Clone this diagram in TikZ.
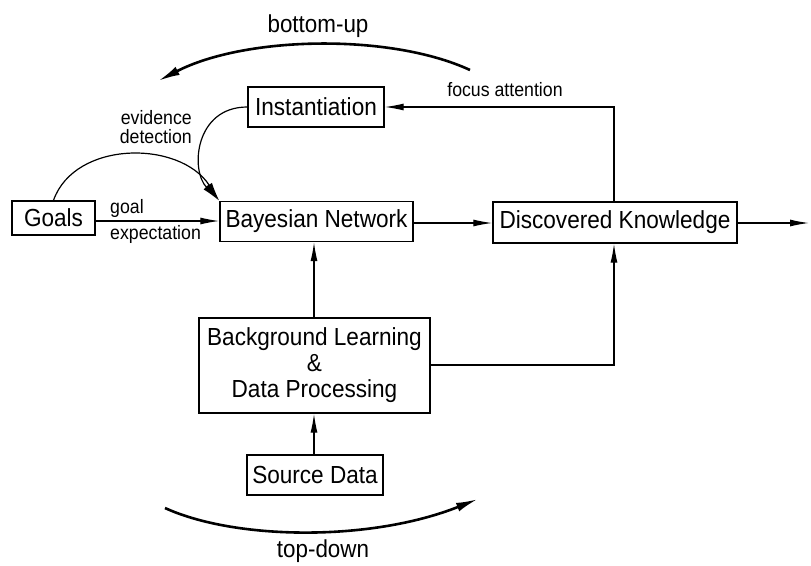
\documentclass[tikz,border=0pt]{standalone}
\usepackage{fontspec}
\setmainfont{Liberation Sans}[FakeStretch=0.914]
\usetikzlibrary{arrows.meta,calc}
\tikzset{
  box/.style={draw, line width=1.4pt, inner sep=0pt, align=center, font=\fontsize{24.7}{26}\selectfont},
  conn/.style={line width=1.2pt, -{Latex[length=19pt,width=7pt]}},
  bigarc/.style={line width=2.6pt, -{Latex[length=22pt,width=9pt]}},
  small/.style={font=\fontsize{19.4}{19.5}\selectfont, inner sep=0pt},
  big/.style={font=\fontsize{24.5}{26}\selectfont, inner sep=0pt}
}
\begin{document}
\begin{tikzpicture}[x=1pt,y=-1pt]
\useasboundingbox (0,0) rectangle (811,565);
% boxes
\node[box, minimum width=83pt, minimum height=34pt] (goals) at (53.5,218) {Goals};
\node[box, minimum width=193pt, minimum height=40pt] (bn) at (316.5,221.5) {Bayesian Network};
\node[box, minimum width=136pt, minimum height=40pt] (inst) at (316,107) {Instantiation};
\node[box, minimum width=244pt, minimum height=41pt] (dk) at (615,222.5) {Discovered Knowledge};
\node[box, minimum width=231pt, minimum height=95pt] (bg) at (314.5,365.5) {Background Learning\\\&\\Data Processing};
\node[box, minimum width=136pt, minimum height=40pt] (src) at (315,475) {Source Data};
\coordinate (out) at (809,223);
\coordinate (fx) at (614,107);
\coordinate (bx) at (614,365);
% connectors
\draw[conn] (goals.east |- 0,221) -- (bn.west |- 0,221);
\draw[conn] (bn.east |- 0,223) -- (dk.west |- 0,223);
\draw[conn] (dk.east |- out) -- (out);
\draw[conn] (dk.north -| fx) -- (fx) -- (inst.east);
\draw[conn] (bg.north -| 314,0) -- (bn.south -| 314,0);
\draw[conn] (src.north -| 314,0) -- (bg.south -| 314,0);
\draw[conn] (bg.east |- bx) -- (bx) -- (dk.south -| bx);
\draw[conn] (inst.west) .. controls (195,107) and (190,170) .. (bn.north west);
\draw[conn] (goals.north) .. controls (75,140) and (180,140) .. (bn.north west);
% big arcs
\coordinate (bu1) at (470,70);
\coordinate (bu2) at (158,81);
\draw[bigarc] (bu1) .. controls (390,33) and (245,36) .. (bu2);
\coordinate (td1) at (165,508);
\coordinate (td2) at (478,499);
\draw[bigarc] (td1) .. controls (235,540) and (370,542) .. (td2);
% labels
\node[small, anchor=east, align=right] (ev) at (192,127) {evidence\\detection};
\node[small, anchor=base west] (gl) at (110,213) {goal};
\node[small, anchor=base west] (ex) at (110,239) {expectation};
\node[small, anchor=base] (fa) at (505,96) {focus attention};
\node[big, anchor=base] (bu) at (318,32) {bottom-up};
\node[big, anchor=base] (td) at (323,557) {top-down};
\end{tikzpicture}
\end{document}
